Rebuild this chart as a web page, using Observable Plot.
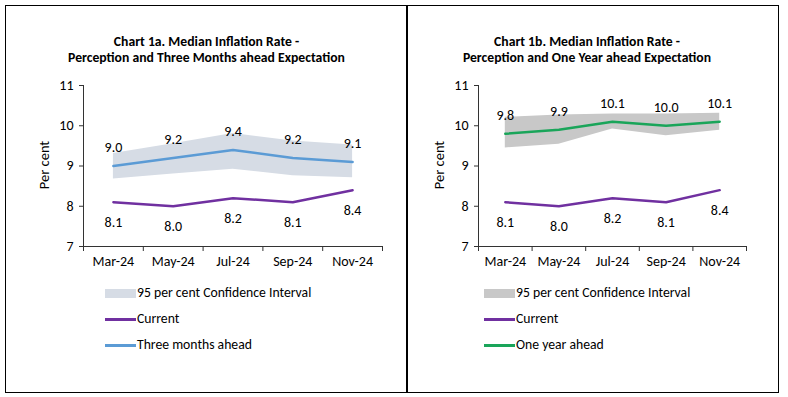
<!DOCTYPE html>
<html>
<head>
<meta charset="utf-8">
<script src="https://cdn.jsdelivr.net/npm/d3@7"></script>
<script src="https://cdn.jsdelivr.net/npm/@observablehq/plot@0.6"></script>
<style>
  html, body { margin: 0; padding: 0; background: #fff; }
  body { width: 788px; height: 397px; position: relative; overflow: hidden; font-family: Carlito, Lato, "Liberation Sans", sans-serif; color: #000; }
  .abs { position: absolute; }
  .title { font-weight: bold; font-size: 13.7px; line-height: 16px; text-align: center; white-space: nowrap; }
  .ylab { font-size: 14.5px; transform: translate(-50%, -50%) rotate(-90deg); white-space: nowrap; }
  .leg { font-size: 13.7px; line-height: 16px; white-space: nowrap; }
  .sw { position: absolute; }
</style>
</head>
<body>
<div class="abs" style="left:5px;top:5px;width:774px;height:388px;border:1.5px solid #000;box-sizing:border-box;"></div>
<div class="abs" style="left:406px;top:5px;width:1.5px;height:388px;background:#000;"></div>
<div id="root"></div>
<script>
// ---- data ----
const months = ["Mar-24", "May-24", "Jul-24", "Sep-24", "Nov-24"];
const yTicks = [7, 8, 9, 10, 11];
const current = [8.1, 8.0, 8.2, 8.1, 8.4];
const threeMonthsAhead = [9.0, 9.2, 9.4, 9.2, 9.1];
const threeMonthsLow = [8.68, 8.80, 8.92, 8.76, 8.71];
const threeMonthsHigh = [9.31, 9.55, 9.81, 9.62, 9.52];
const oneYearAhead = [9.8, 9.9, 10.1, 10.0, 10.1];
const oneYearLow = [9.45, 9.54, 9.92, 9.75, 9.89];
const oneYearHigh = [10.21, 10.27, 10.29, 10.29, 10.31];

const titles = [
  ["Chart 1a. Median Inflation Rate -", "Perception and Three Months ahead Expectation"],
  ["Chart 1b. Median Inflation Rate -", "Perception and One Year ahead Expectation"]
];
const legendLabels = [
  ["95 per cent Confidence Interval", "Current", "Three months ahead"],
  ["95 per cent Confidence Interval", "Current", "One year ahead"]
];

const PURPLE = "#7030A0";
const BLUE = "#5B9BD5";
const GREEN = "#1AA55A";
const BAND1 = "#D6DCE5";
const BAND2 = "#C8C8C8";
const FONT = "Carlito, Lato, 'Liberation Sans', sans-serif";
const fmt = d3.format(".1f");

function rowsOf(exp, lo, hi) {
  return months.map((m, i) => ({ i, m, cur: current[i], exp: exp[i], lo: lo[i], hi: hi[i] }));
}

function chart(rows, opt) {
  const boundaries = months.map((_, i) => i - 0.5).concat([months.length - 0.5]);
  return Plot.plot({
    width: opt.width,
    height: 210,
    marginLeft: opt.marginLeft,
    marginRight: opt.marginRight,
    marginTop: 15,
    marginBottom: 34,
    x: { type: "linear", domain: [-0.5, months.length - 0.5] },
    y: { domain: [7, 11] },
    style: { background: "transparent", fontFamily: FONT, fontSize: "14px", color: "#000", overflow: "visible" },
    marks: [
      Plot.areaY(rows, { x: "i", y1: "lo", y2: "hi", fill: opt.band }),
      Plot.ruleX([-0.5], { stroke: "#333", strokeWidth: 1 }),
      Plot.ruleY([7], { stroke: "#333", strokeWidth: 1 }),
      Plot.axisY({ ticks: yTicks, tickSize: 4, tickPadding: 6, tickFormat: (d) => String(d), label: null, stroke: "#333", fontSize: 14 }),
      Plot.axisX({ ticks: boundaries, tickSize: 5, tickFormat: () => "", label: null, stroke: "#333" }),
      Plot.axisX({ ticks: months.map((_, i) => i), tickSize: 0, tickPadding: 10, tickFormat: (i) => months[i], label: null, fontSize: 14 }),
      Plot.line(rows, { x: "i", y: "exp", stroke: opt.color, strokeWidth: 2.5 }),
      Plot.line(rows, { x: "i", y: "cur", stroke: PURPLE, strokeWidth: 2.5 }),
      Plot.text(rows, { x: "i", y: "exp", text: (d) => fmt(d.exp), dy: -18, fontSize: 14 }),
      Plot.text(rows, { x: "i", y: "cur", text: (d) => fmt(d.cur), dy: 20, fontSize: 14 })
    ]
  });
}

const root = document.getElementById("root");
function place(el, left, top) {
  el.style.position = "absolute";
  el.style.left = left + "px";
  el.style.top = top + "px";
  root.appendChild(el);
  return el;
}
function div(cls, html, left, top, extra) {
  const d = document.createElement("div");
  d.className = cls;
  d.innerHTML = html;
  if (extra) Object.assign(d.style, extra);
  return place(d, left, top);
}

const panels = [
  { rows: rowsOf(threeMonthsAhead, threeMonthsLow, threeMonthsHigh), color: BLUE, band: BAND1,
    svgLeft: 0, width: 400, marginLeft: 83, marginRight: 18,
    titleLeft: 6, titleWidth: 401, ylabX: 44, legX: 105 },
  { rows: rowsOf(oneYearAhead, oneYearLow, oneYearHigh), color: GREEN, band: BAND2,
    svgLeft: 400, width: 388, marginLeft: 78, marginRight: 42,
    titleLeft: 407, titleWidth: 360, ylabX: 439, legX: 484 }
];

panels.forEach((p, k) => {
  div("title", titles[k][0] + "<br>" + titles[k][1], p.titleLeft, 34, { width: p.titleWidth + "px" });
  place(chart(p.rows, p), p.svgLeft, 70);
  div("ylab", "Per cent", p.ylabX, 165);
  // legend
  const ys = [293, 319, 345];
  const swatchStyles = [
    { background: p.band, height: "9px" },
    { background: PURPLE, height: "3px" },
    { background: p.color, height: "3px" }
  ];
  ys.forEach((y, j) => {
    const s = document.createElement("div");
    s.className = "sw";
    const h = parseFloat(swatchStyles[j].height);
    Object.assign(s.style, swatchStyles[j], { width: "31px", left: p.legX + "px", top: (y - h / 2) + "px" });
    root.appendChild(s);
    div("leg", legendLabels[k][j], p.legX + 32, y - 8);
  });
});
</script>
</body>
</html>
